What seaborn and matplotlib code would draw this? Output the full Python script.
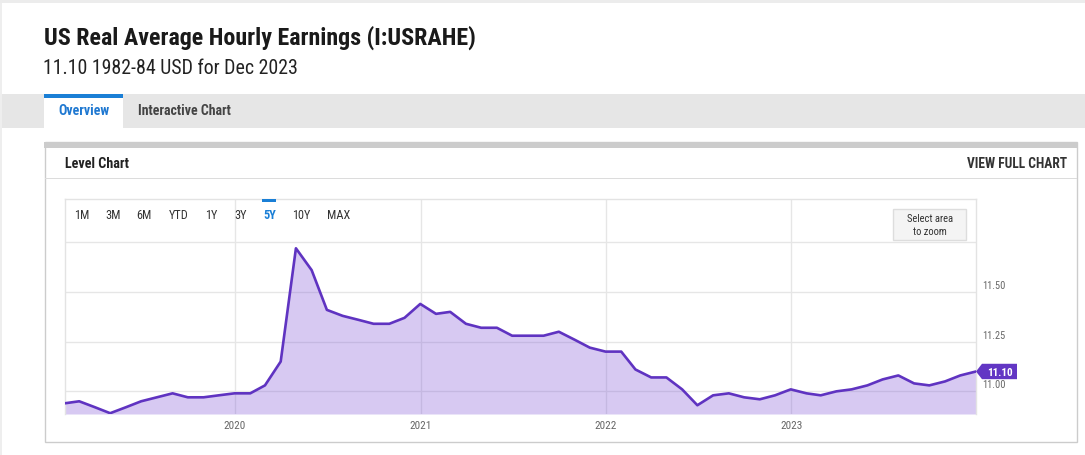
import numpy as np
import pandas as pd
import matplotlib
matplotlib.use("Agg")
import matplotlib.pyplot as plt
import matplotlib.dates as mdates
import seaborn as sns
from matplotlib import font_manager
from matplotlib.patches import Rectangle, Polygon
from matplotlib.transforms import ScaledTranslation

# ---------------- data ----------------
start_month = "2019-02-01"          # month-end values from Jan 2019
n_months = 60
values_2019 = [10.94, 10.95, 10.92, 10.89, 10.92, 10.95, 10.97, 10.99, 10.97, 10.97, 10.98, 10.99]
values_2020 = [10.99, 11.03, 11.15, 11.72, 11.61, 11.41, 11.38, 11.36, 11.34, 11.34, 11.37, 11.44]
values_2021 = [11.39, 11.40, 11.34, 11.32, 11.32, 11.28, 11.28, 11.28, 11.30, 11.26, 11.22, 11.20]
values_2022 = [11.20, 11.11, 11.07, 11.07, 11.01, 10.93, 10.98, 10.99, 10.97, 10.96, 10.98, 11.01]
values_2023 = [10.99, 10.98, 11.00, 11.01, 11.03, 11.06, 11.08, 11.04, 11.03, 11.05, 11.08, 11.10]
values = values_2019 + values_2020 + values_2021 + values_2022 + values_2023
year_ticks = ["2020-01-01", "2021-01-01", "2022-01-01", "2023-01-01"]
year_labels = ["2020", "2021", "2022", "2023"]
y_ticks = [11.00, 11.25, 11.50, 11.75]
y_labels = ["11.00", "11.25", "11.50", ""]
range_buttons = ["1M", "3M", "6M", "YTD", "1Y", "3Y", "5Y", "10Y", "MAX"]
title = "US Real Average Hourly Earnings (I:USRAHE)"
subtitle = "11.10 1982-84 USD for Dec 2023"
last_label = "11.10"

dates = pd.date_range(start_month, periods=n_months, freq="MS") - pd.Timedelta(days=1)
df = pd.DataFrame({"date": dates, "value": values})

# ---------------- style ----------------
sns.set_theme(style="white")
names = {f.name for f in font_manager.fontManager.ttflist}
FONT = next((n for n in ["Roboto Condensed", "Liberation Sans Narrow", "Roboto"] if n in names), "DejaVu Sans")
plt.rcParams["font.family"] = [FONT, "DejaVu Sans"]

W, H = 1085, 455
fig = plt.figure(figsize=(W / 100, H / 100), dpi=100)
fig.patch.set_facecolor("white")
renderer = fig.canvas.get_renderer()


def fxy(x, y):
    return x / W, 1 - y / H


def rect(x0, y0, x1, y1, fc="none", ec="none", lw=0, z=0):
    r = Rectangle(fxy(x0, y1), (x1 - x0) / W, (y1 - y0) / H, transform=fig.transFigure,
                  facecolor=fc, edgecolor=ec, linewidth=lw, zorder=z)
    fig.add_artist(r)
    return r


def size_for(s, target_w, weight="normal"):
    t = fig.text(0, 0, s, fontsize=10, fontweight=weight)
    w = t.get_window_extent(renderer).width
    t.remove()
    return 10 * target_w / w


def ftext(x, y, s, target_w, weight="normal", color="#222222", ha="left", va="baseline", size=None, z=5):
    fs = size if size is not None else size_for(s, target_w, weight)
    return fig.text(*fxy(x, y), s, fontsize=fs, fontweight=weight, color=color, ha=ha, va=va, zorder=z)


# page frame
rect(0, 0, W, 3, fc="#ececec")
rect(0, 3, 2, H, fc="#eeeeee")

# header texts
ftext(44, 45, title, 430, weight="bold", color="#1a1a1a")
ftext(43, 74, subtitle, 254, color="#222222")

# tabs
rect(2, 94, W, 128, fc="#e6e6e6")
rect(44, 94, 123, 128, fc="white", z=1)
rect(44, 94, 123, 98, fc="#1a7fd6", z=2)
ftext(58, 115, "Overview", 51, weight="bold", color="#1f78d1")
ftext(138, 115, "Interactive Chart", 93, weight="bold", color="#444444")

# panel
rect(44.5, 142, 1076.5, 441.5, fc="none", ec="#cccccc", lw=1, z=1)
rect(44, 142, 1077, 148, fc="#cccccc", z=2)
rect(44.5, 177.5, 1076.5, 178.5, fc="#dcdcdc", z=2)
ftext(65, 168, "Level Chart", 64, weight="bold", color="#222222")
ftext(1067, 168, "VIEW FULL CHART", 100, weight="bold", color="#333333", ha="right")

# ---------------- chart ----------------
L, R, T, B = 65, 976, 199, 414
ax = fig.add_axes([L / W, 1 - B / H, (R - L) / W, (B - T) / H])
ax.set_facecolor("none")
line_color = "#5f33c1"
sns.lineplot(data=df, x="date", y="value", ax=ax, color=line_color, linewidth=1.9, zorder=3)
ymin, ymax = 10.886, 11.968
ax.set_ylim(ymin, ymax)
ax.set_xlim(dates[0], dates[-1])
ax.fill_between(df["date"], df["value"], ymin, color="#7b4fd6", alpha=0.30, linewidth=0, zorder=2)

ax.set_xticks(pd.to_datetime(year_ticks), labels=year_labels)
ax.set_yticks(y_ticks, labels=y_labels)
ax.set_xlabel("")
ax.set_ylabel("")
ax.grid(True, color="#e6e6e6", linewidth=1)
ax.set_axisbelow(True)
for side in ["left", "top", "right"]:
    ax.spines[side].set_color("#e3e3e3")
    ax.spines[side].set_linewidth(1)
ax.spines["bottom"].set_visible(False)

ax.tick_params(axis="x", length=0, pad=5, labelsize=size_for("2020", 22), labelcolor="#666666")
ax.tick_params(axis="y", length=0, pad=4.5, labelsize=size_for("11.50", 23), labelcolor="#666666",
               left=False, labelleft=False, right=False, labelright=True)
shift = ScaledTranslation(0, 3 / 100, fig.dpi_scale_trans)
for lab in ax.get_yticklabels():
    lab.set_verticalalignment("baseline")
    lab.set_transform(lab.get_transform() + shift)

# range selector buttons
btn_centers = [81.5, 112.8, 144.3, 178.3, 211.2, 240.3, 269.3, 300.8, 338.7]
btn_fs = size_for("MAX", 23)
for s, cx in zip(range_buttons, btn_centers):
    active = s == "5Y"
    ftext(cx, 219.3, s, None, size=btn_fs, weight="bold" if active else "normal",
          color="#1a7fd6" if active else "#333333", ha="center")
rect(262, 199, 276, 202, fc="#1a7fd6", z=6)

# "Select area to zoom" button
rect(893, 209, 966, 240, fc="#f4f4f4", ec="#dddddd", lw=1, z=4)
sel_fs = size_for("Select area", 46)
ftext(930, 222, "Select area", None, size=sel_fs, color="#333333", ha="center")
ftext(930, 235, "to zoom", None, size=sel_fs, color="#333333", ha="center")

# last value flag
fig.canvas.draw()
px, py = ax.transData.transform((mdates.date2num(dates[-1]), values[-1]))
yc = H - py
flag = Polygon([fxy(976, yc), fxy(982, yc - 7.7), fxy(1017, yc - 7.7), fxy(1017, yc + 7.7), fxy(982, yc + 7.7)],
               closed=True, transform=fig.transFigure, facecolor="#6236c4", edgecolor="none", zorder=7)
fig.add_artist(flag)
ftext(999.5, yc + 4.5, last_label, None, size=size_for(last_label, 26, "bold"), weight="bold",
      color="white", ha="center", z=9)

fig.savefig("out.png", dpi=100, facecolor="white")
